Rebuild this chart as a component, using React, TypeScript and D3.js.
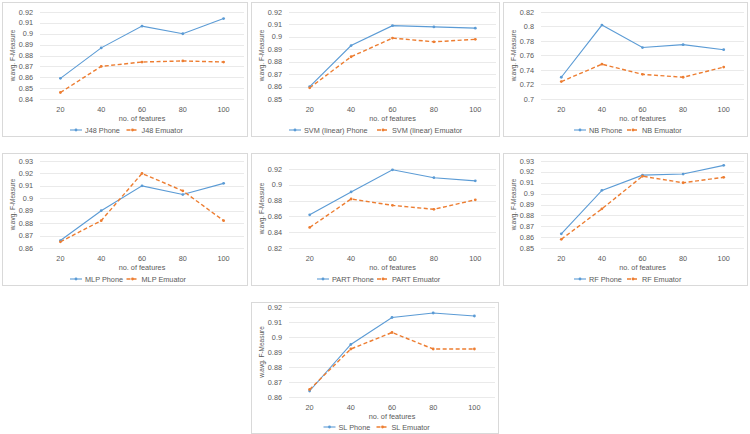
import React from 'react';
import * as d3 from 'd3';

const features = ['20', '40', '60', '80', '100'];

const j48Phone = [0.859, 0.887, 0.907, 0.9, 0.914];
const j48Emu = [0.846, 0.87, 0.874, 0.875, 0.874];
const j48Ticks = [0.84, 0.85, 0.86, 0.87, 0.88, 0.89, 0.9, 0.91, 0.92];

const svmPhone = [0.86, 0.893, 0.909, 0.908, 0.907];
const svmEmu = [0.859, 0.884, 0.899, 0.896, 0.898];
const svmTicks = [0.85, 0.86, 0.87, 0.88, 0.89, 0.9, 0.91, 0.92];

const nbPhone = [0.73, 0.802, 0.771, 0.775, 0.768];
const nbEmu = [0.724, 0.748, 0.734, 0.73, 0.744];
const nbTicks = [0.7, 0.72, 0.74, 0.76, 0.78, 0.8, 0.82];

const mlpPhone = [0.866, 0.89, 0.91, 0.903, 0.912];
const mlpEmu = [0.865, 0.882, 0.92, 0.906, 0.882];
const mlpTicks = [0.86, 0.87, 0.88, 0.89, 0.9, 0.91, 0.92, 0.93];

const partPhone = [0.862, 0.891, 0.919, 0.909, 0.905];
const partEmu = [0.846, 0.882, 0.874, 0.869, 0.881];
const partTicks = [0.82, 0.84, 0.86, 0.88, 0.9, 0.92];

const rfPhone = [0.863, 0.903, 0.917, 0.918, 0.926];
const rfEmu = [0.858, 0.886, 0.916, 0.91, 0.915];
const rfTicks = [0.85, 0.86, 0.87, 0.88, 0.89, 0.9, 0.91, 0.92, 0.93];

const slPhone = [0.864, 0.895, 0.913, 0.916, 0.914];
const slEmu = [0.865, 0.892, 0.903, 0.892, 0.892];
const slTicks = [0.86, 0.87, 0.88, 0.89, 0.9, 0.91, 0.92];

const BLUE = '#5B9BD5';
const ORANGE = '#ED7D31';
const TEXT = '#595959';
const GRID = '#E4E4E4';
const FONT = '"Liberation Sans", Arial, sans-serif';

// layout: panel box and plot top/bottom offsets inside it
const panels = [
  { name: 'J48', phone: j48Phone, emu: j48Emu, ticks: j48Ticks, x: 2, y: 2, w: 246, h: 135, top: 10, bottom: 97 },
  { name: 'SVM (linear)', phone: svmPhone, emu: svmEmu, ticks: svmTicks, x: 251, y: 2, w: 249, h: 135, top: 10, bottom: 97 },
  { name: 'NB', phone: nbPhone, emu: nbEmu, ticks: nbTicks, x: 503, y: 2, w: 245, h: 135, top: 10, bottom: 97 },
  { name: 'MLP', phone: mlpPhone, emu: mlpEmu, ticks: mlpTicks, x: 2, y: 153, w: 246, h: 133, top: 8, bottom: 95 },
  { name: 'PART', phone: partPhone, emu: partEmu, ticks: partTicks, x: 251, y: 153, w: 249, h: 133, top: 16, bottom: 95 },
  { name: 'RF', phone: rfPhone, emu: rfEmu, ticks: rfTicks, x: 503, y: 153, w: 245, h: 133, top: 8, bottom: 95 },
  { name: 'SL', phone: slPhone, emu: slEmu, ticks: slTicks, x: 251, y: 302, w: 248, h: 132, top: 5, bottom: 95 },
];

const fmt = (v: number) => String(+v.toFixed(3));

const Panel = ({ p }: { p: any }) => {
  const left = 38;
  const right = p.w - 4;
  const x = d3.scalePoint<string>().domain(features).range([left, right]).padding(0.5);
  const y = d3
    .scaleLinear()
    .domain([p.ticks[0], p.ticks[p.ticks.length - 1]])
    .range([p.bottom, p.top]);

  const line = d3
    .line<number>()
    .x((_, i) => x(features[i]) as number)
    .y((d) => y(d));

  const phoneLabel = `${p.name} Phone`;
  const emuLabel = `${p.name} Emuator`;
  const cw = 3.5;
  const itemW = (s: string) => 15 + s.length * cw;
  const gap = 10;
  const total = itemW(phoneLabel) + gap + itemW(emuLabel);
  const lx = p.w / 2 - total / 2;
  const lx2 = lx + itemW(phoneLabel) + gap;
  const ly = p.h - 7;

  return (
    <g transform={`translate(${p.x},${p.y})`}>
      <rect x={0.5} y={0.5} width={p.w - 1} height={p.h - 1} fill="#fff" stroke="#D9D9D9" strokeWidth={1} />
      {p.ticks.map((t: number) => (
        <g key={t}>
          <line x1={left} x2={right} y1={Math.round(y(t)) + 0.5} y2={Math.round(y(t)) + 0.5} stroke={GRID} strokeWidth={0.8} />
          <text x={31} y={y(t)} dy="0.35em" textAnchor="end" fontSize={7.3} fill={TEXT}>
            {fmt(t)}
          </text>
        </g>
      ))}
      {features.map((f) => (
        <text key={f} x={x(f)} y={p.bottom + 10} dy="0.35em" textAnchor="middle" fontSize={7.3} fill={TEXT}>
          {f}
        </text>
      ))}
      <text x={(left + right) / 2} y={p.bottom + 19} dy="0.35em" textAnchor="middle" fontSize={7.3} fill={TEXT}>
        no. of features
      </text>
      <text
        transform={`translate(11,${(p.top + p.bottom) / 2}) rotate(-90)`}
        textAnchor="middle"
        dy="0.35em"
        fontSize={6.5}
        fill={TEXT}
      >
        w.avg. F-Measure
      </text>
      <path d={line(p.phone) || ''} fill="none" stroke={BLUE} strokeWidth={1.1} />
      <path d={line(p.emu) || ''} fill="none" stroke={ORANGE} strokeWidth={1.4} strokeDasharray="4,2.5" />
      {p.phone.map((v: number, i: number) => (
        <circle key={`p${i}`} cx={x(features[i])} cy={y(v)} r={1.4} fill={BLUE} />
      ))}
      {p.emu.map((v: number, i: number) => (
        <circle key={`e${i}`} cx={x(features[i])} cy={y(v)} r={1.4} fill={ORANGE} />
      ))}
      <g transform={`translate(${lx},${ly})`}>
        <line x1={0} x2={12} y1={0} y2={0} stroke={BLUE} strokeWidth={1.1} />
        <circle cx={6} cy={0} r={1.4} fill={BLUE} />
        <text x={15} y={0} dy="0.35em" fontSize={7.3} fill={TEXT}>
          {phoneLabel}
        </text>
      </g>
      <g transform={`translate(${lx2},${ly})`}>
        <line x1={0} x2={12} y1={0} y2={0} stroke={ORANGE} strokeWidth={1.4} strokeDasharray="4,2" />
        <circle cx={6} cy={0} r={1.4} fill={ORANGE} />
        <text x={15} y={0} dy="0.35em" fontSize={7.3} fill={TEXT}>
          {emuLabel}
        </text>
      </g>
    </g>
  );
};

export default function App() {
  return (
    <svg
      width={750}
      height={434}
      style={{ position: 'absolute', left: 0, top: 0, background: '#fff' }}
      fontFamily={FONT}
    >
      <rect width={750} height={434} fill="#fff" />
      {panels.map((p) => (
        <Panel key={p.name} p={p} />
      ))}
    </svg>
  );
}
